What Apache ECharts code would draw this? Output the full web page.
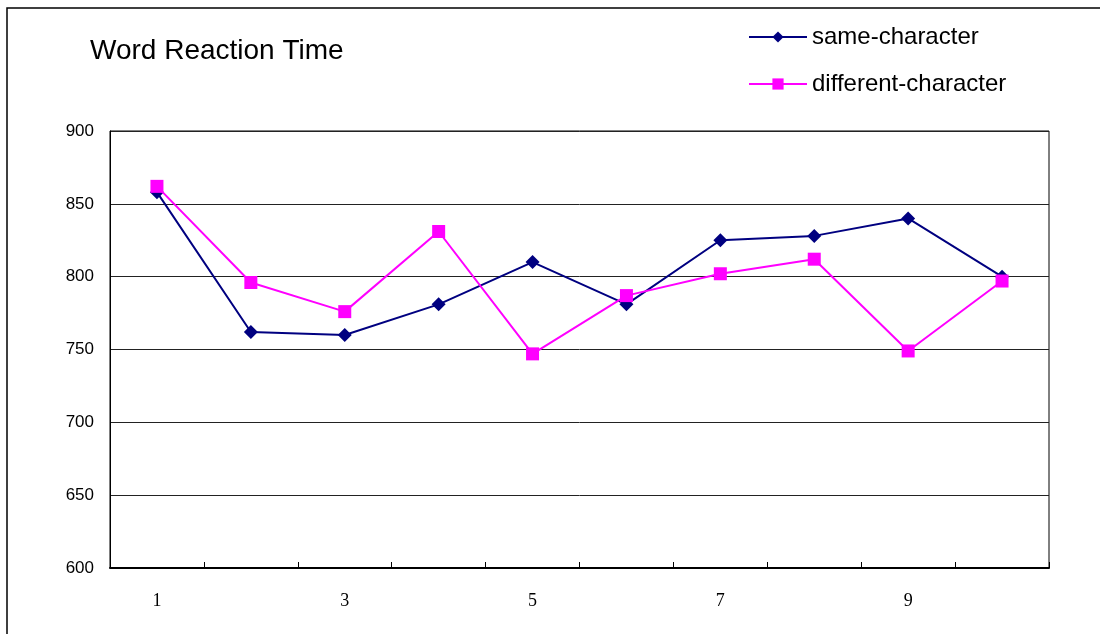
<!DOCTYPE html>
<html>
<head>
<meta charset="utf-8">
<script src="https://cdn.jsdelivr.net/npm/echarts@6/dist/echarts.min.js"></script>
<style>html,body{margin:0;padding:0;background:#fff;}#c{width:1100px;height:634px;}</style>
</head>
<body>
<div id="c"></div>
<script>
const categories = ['1','2','3','4','5','6','7','8','9','10'];
const sameCharacter = [858, 762, 760, 781, 810, 781, 825, 828, 840, 800];
const differentCharacter = [862, 796, 776, 831, 747, 787, 802, 812, 749, 797];
const seriesNames = ['same-character', 'different-character'];
const titleText = 'Word Reaction Time';

const chart = echarts.init(document.getElementById('c'));
chart.setOption({
  animation: false,
  backgroundColor: '#fff',
  graphic: [{
    type: 'rect', silent: true, z: -1,
    shape: { x: 7, y: 8, width: 1200, height: 700 },
    style: { fill: 'none', stroke: '#000', lineWidth: 1.5 }
  }],
  title: {
    text: titleText, left: 85, top: 32,
    textStyle: { fontFamily: 'Liberation Sans', fontSize: 28, fontWeight: 'normal', color: '#000' }
  },
  legend: {
    orient: 'vertical', left: 743, top: 20,
    itemWidth: 58, itemHeight: 14, itemGap: 23, itemGap: 23,
    textStyle: { fontFamily: 'Liberation Sans', fontSize: 24, lineHeight: 24, color: '#000' },
    data: seriesNames
  },
  grid: {
    left: 110, right: 51, top: 131, bottom: 66,
    show: true, borderColor: '#000', borderWidth: 1
  },
  xAxis: {
    type: 'category', data: categories, boundaryGap: true,
    axisLine: { show: true, lineStyle: { color: '#000', width: 2 } },
    axisTick: { show: true, inside: true, length: 6, interval: 0, alignWithLabel: false, lineStyle: { color: '#000', width: 1 } },
    axisLabel: { interval: 1, margin: 24, fontFamily: 'Liberation Serif', fontSize: 18, color: '#000' },
    splitLine: { show: false }
  },
  yAxis: {
    type: 'value', min: 600, max: 900, interval: 50,
    axisLine: { show: true, lineStyle: { color: '#000', width: 1 } },
    axisTick: { show: false },
    axisLabel: { margin: 16, fontFamily: 'Liberation Sans', fontSize: 17, color: '#000' },
    splitLine: { lineStyle: { color: '#222', width: 1 } }
  },
  series: [
    {
      name: seriesNames[0], type: 'line', data: sameCharacter,
      symbol: 'diamond', symbolSize: 14,
      lineStyle: { color: '#000080', width: 2 },
      itemStyle: { color: '#000080' }, z: 3
    },
    {
      name: seriesNames[1], type: 'line', data: differentCharacter,
      symbol: 'rect', symbolSize: 13,
      lineStyle: { color: '#FF00FF', width: 2 },
      itemStyle: { color: '#FF00FF' }, z: 4
    }
  ]
});
</script>
</body>
</html>
